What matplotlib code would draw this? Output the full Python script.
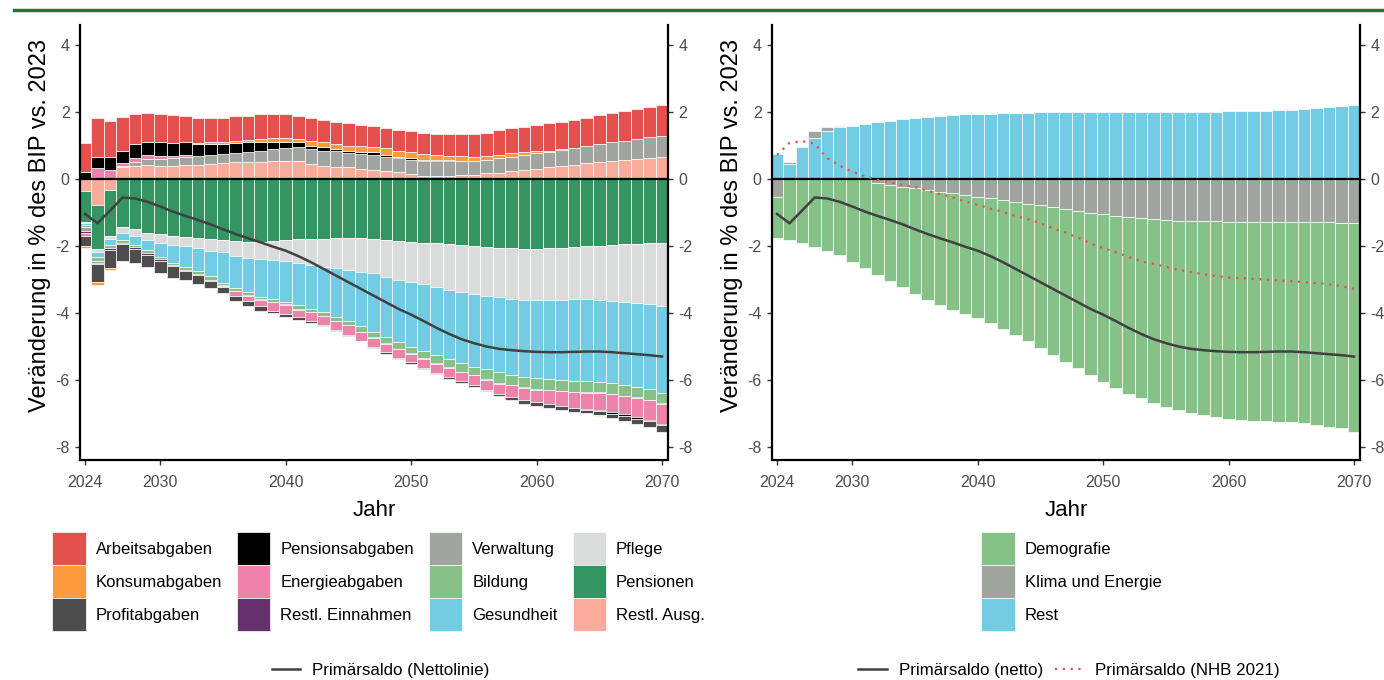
import numpy as np
import matplotlib
matplotlib.use('Agg')
import matplotlib.pyplot as plt
from matplotlib.patches import Patch
from matplotlib.lines import Line2D

plt.rcParams['font.family'] = ['Liberation Sans', 'DejaVu Sans']
plt.rcParams['axes.unicode_minus'] = False

years = np.arange(2024, 2071)

# --- left panel components (% of GDP, signed) ---
arbeitsabgaben = [0.88, 1.14, 1.07, 1.01, 0.88, 0.84, 0.83, 0.82, 0.76, 0.75, 0.71, 0.71, 0.73, 0.70, 0.73, 0.71,
                  0.71, 0.68, 0.66, 0.66, 0.64, 0.66, 0.63, 0.63, 0.60, 0.63, 0.61, 0.64, 0.63, 0.66, 0.66, 0.69,
                  0.71, 0.74, 0.74, 0.76, 0.78, 0.81, 0.82, 0.83, 0.83, 0.86, 0.88, 0.89, 0.89, 0.91, 0.91]
konsumabgaben = [-0.08, -0.10, -0.05, 0, 0, 0, 0, 0.01, 0.01, 0.03, 0.05, 0.05, 0.08, 0.08, 0.10, 0.10,
                 0.10, 0.10, 0.15, 0.15, 0.15, 0.15, 0.18, 0.15, 0.20, 0.18, 0.20, 0.18, 0.16, 0.13, 0.15, 0.12,
                 0.10, 0.10, 0.10, 0.08, 0.06, 0.04, 0.01, 0, 0, -0.02, 0, -0.02, 0, 0, 0]
profitabgaben = [-0.30, -0.53, -0.55, -0.49, -0.41, -0.35, -0.36, -0.33, -0.27, -0.25, -0.22, -0.18, -0.15, -0.15,
                 -0.15, -0.08, -0.08, -0.08, -0.05, -0.03, -0.01, -0.01, -0.01, -0.01, -0.05, -0.04, -0.04, -0.04,
                 -0.04, -0.05, -0.05, -0.05, -0.05, -0.05, -0.08, -0.10, -0.12, -0.10, -0.11, -0.13, -0.10, -0.12,
                 -0.14, -0.15, -0.16, -0.17, -0.20]
pensionsabgaben = [0.20, 0.35, 0.40, 0.37, 0.41, 0.40, 0.40, 0.40, 0.40, 0.35, 0.33, 0.30, 0.30, 0.28, 0.25, 0.22,
                   0.20, 0.15, 0.10, 0.10, 0.07, 0.07, 0.05, 0.07, 0.06, 0.05, 0.04, 0.04, 0.04, 0.04, 0.02, 0,
                   0, 0, 0, 0, 0, 0, 0, 0, -0.04, -0.05, -0.05, -0.05, -0.05, -0.04, -0.05]
energieabgaben = [-0.08, 0.32, 0.27, 0.08, 0.12, 0.12, 0.10, 0.06, 0.04, 0, 0, -0.03, -0.13, -0.15, -0.18, -0.25,
                  -0.27, -0.23, -0.26, -0.28, -0.28, -0.30, -0.27, -0.28, -0.24, -0.26, -0.25, -0.27, -0.28, -0.28,
                  -0.28, -0.30, -0.30, -0.32, -0.35, -0.38, -0.37, -0.42, -0.45, -0.47, -0.48, -0.51, -0.53, -0.55,
                  -0.58, -0.58, -0.59]
restl_einnahmen = [-0.07, -0.04, -0.05, -0.03, -0.05, -0.05, -0.05, -0.04, -0.03, -0.03, -0.04, -0.03, -0.02, -0.02,
                   -0.02, -0.02, -0.02, -0.02, -0.02, -0.01, -0.01, -0.01, -0.01, -0.01, -0.01, -0.01, -0.03, -0.01,
                   -0.01, -0.02, -0.01, -0.01, -0.01, -0.01, -0.01, -0.01, -0.01, -0.01, -0.01, -0.01, -0.01, -0.01,
                   -0.01, -0.01, -0.01, -0.01, -0.01]
verwaltung = [-0.10, -0.06, 0, 0.05, 0.12, 0.18, 0.20, 0.22, 0.24, 0.27, 0.27, 0.28, 0.27, 0.30, 0.33, 0.35,
              0.37, 0.42, 0.45, 0.45, 0.46, 0.43, 0.45, 0.46, 0.42, 0.42, 0.43, 0.43, 0.43, 0.43, 0.41, 0.42,
              0.41, 0.43, 0.44, 0.45, 0.47, 0.46, 0.48, 0.50, 0.53, 0.55, 0.57, 0.58, 0.60, 0.62, 0.63]
bildung = [-0.07, -0.12, -0.10, -0.10, -0.07, -0.10, -0.07, -0.07, -0.08, -0.10, -0.10, -0.07, -0.07, -0.10, -0.07,
           -0.07, -0.08, -0.12, -0.08, -0.10, -0.12, -0.13, -0.17, -0.17, -0.18, -0.20, -0.18, -0.22, -0.25, -0.25,
           -0.25, -0.25, -0.30, -0.33, -0.30, -0.32, -0.35, -0.33, -0.32, -0.33, -0.34, -0.32, -0.34, -0.32, -0.32,
           -0.32, -0.32]
gesundheit = [-0.07, -0.15, -0.18, -0.22, -0.28, -0.30, -0.40, -0.53, -0.63, -0.67, -0.76, -0.91, -0.97, -0.99,
              -1.11, -1.17, -1.22, -1.24, -1.31, -1.36, -1.46, -1.51, -1.62, -1.74, -1.81, -1.86, -1.95, -1.99,
              -2.02, -2.06, -2.14, -2.17, -2.19, -2.24, -2.27, -2.29, -2.32, -2.36, -2.39, -2.43, -2.44, -2.44,
              -2.44, -2.49, -2.51, -2.54, -2.59]
pflege = [-0.03, -0.07, -0.10, -0.16, -0.19, -0.22, -0.27, -0.28, -0.29, -0.32, -0.35, -0.37, -0.45, -0.50, -0.53,
          -0.57, -0.62, -0.73, -0.78, -0.83, -0.88, -0.95, -1.00, -1.02, -1.10, -1.16, -1.19, -1.24, -1.31, -1.37,
          -1.39, -1.43, -1.47, -1.48, -1.51, -1.52, -1.52, -1.54, -1.56, -1.57, -1.59, -1.62, -1.67, -1.71, -1.75,
          -1.82, -1.87]
pensionen = [-0.90, -1.32, -1.36, -1.44, -1.50, -1.60, -1.65, -1.69, -1.72, -1.75, -1.79, -1.82, -1.84, -1.87, -1.87,
             -1.85, -1.82, -1.79, -1.79, -1.79, -1.77, -1.77, -1.77, -1.80, -1.82, -1.84, -1.87, -1.90, -1.92, -1.94,
             -1.97, -2.00, -2.02, -2.05, -2.07, -2.09, -2.09, -2.07, -2.05, -2.02, -2.00, -1.99, -1.97, -1.95, -1.94,
             -1.92, -1.92]
restl_ausg = [-0.37, -0.78, -0.33, 0.35, 0.40, 0.42, 0.40, 0.40, 0.43, 0.43, 0.45, 0.47, 0.50, 0.52, 0.52, 0.55,
              0.55, 0.53, 0.45, 0.40, 0.37, 0.35, 0.30, 0.27, 0.25, 0.20, 0.15, 0.10, 0.10, 0.10, 0.12, 0.13,
              0.17, 0.19, 0.23, 0.27, 0.30, 0.35, 0.40, 0.43, 0.47, 0.50, 0.53, 0.57, 0.60, 0.63, 0.67]

# --- right panel components ---
demografie = [-1.22, -1.82, -1.92, -2.02, -2.14, -2.28, -2.47, -2.67, -2.75, -2.86, -3.00, -3.16, -3.28, -3.38,
              -3.48, -3.55, -3.63, -3.73, -3.85, -3.98, -4.11, -4.26, -4.42, -4.55, -4.70, -4.85, -5.03, -5.16,
              -5.29, -5.38, -5.51, -5.58, -5.67, -5.74, -5.80, -5.85, -5.89, -5.92, -5.95, -5.94, -5.96, -5.97,
              -6.00, -6.05, -6.10, -6.14, -6.24]
klima_energie = [-0.55, 0.05, 0, 0.20, 0.11, 0.05, 0, 0, -0.12, -0.18, -0.23, -0.28, -0.33, -0.38, -0.43, -0.48,
                 -0.53, -0.58, -0.63, -0.68, -0.73, -0.78, -0.83, -0.90, -0.95, -1.00, -1.04, -1.09, -1.13, -1.17,
                 -1.19, -1.22, -1.24, -1.25, -1.26, -1.26, -1.27, -1.27, -1.27, -1.28, -1.28, -1.28, -1.29, -1.29,
                 -1.29, -1.30, -1.30]
rest = [0.74, 0.45, 0.95, 1.24, 1.43, 1.54, 1.58, 1.64, 1.69, 1.74, 1.78, 1.83, 1.86, 1.89, 1.92, 1.93, 1.94,
        1.95, 1.96, 1.97, 1.98, 1.99, 1.99, 2.00, 2.01, 2.01, 2.01, 2.01, 2.01, 2.01, 2.00, 2.00, 2.00, 2.00,
        2.01, 2.01, 2.02, 2.02, 2.03, 2.04, 2.05, 2.07, 2.09, 2.11, 2.14, 2.17, 2.21]

# --- lines ---
primaersaldo = [-1.04, -1.32, -0.94, -0.55, -0.58, -0.68, -0.82, -0.97, -1.10, -1.22, -1.35, -1.50, -1.64, -1.77,
                -1.89, -2.02, -2.14, -2.30, -2.48, -2.68, -2.88, -3.08, -3.28, -3.48, -3.68, -3.88, -4.05, -4.24,
                -4.44, -4.62, -4.78, -4.90, -5.00, -5.07, -5.11, -5.14, -5.16, -5.17, -5.17, -5.16, -5.15, -5.15,
                -5.17, -5.20, -5.23, -5.26, -5.30]
nhb_2021 = [0.72, 1.08, 1.13, 1.06, 0.62, 0.40, 0.22, 0.08, -0.02, -0.10, -0.17, -0.24, -0.35, -0.45, -0.55, -0.67,
            -0.77, -0.88, -0.98, -1.10, -1.20, -1.32, -1.47, -1.60, -1.75, -1.92, -2.06, -2.18, -2.32, -2.45, -2.53,
            -2.62, -2.71, -2.78, -2.84, -2.90, -2.94, -2.96, -2.98, -3.00, -3.03, -3.05, -3.08, -3.11, -3.14, -3.20,
            -3.28]

# legend order (first entry is stacked farthest from zero)
left_series = [
    ('Arbeitsabgaben', arbeitsabgaben, '#E4504E'),
    ('Konsumabgaben', konsumabgaben, '#FD9A3E'),
    ('Profitabgaben', profitabgaben, '#4D4D4D'),
    ('Pensionsabgaben', pensionsabgaben, '#000000'),
    ('Energieabgaben', energieabgaben, '#EE82A8'),
    ('Restl. Einnahmen', restl_einnahmen, '#66306E'),
    ('Verwaltung', verwaltung, '#A0A69F'),
    ('Bildung', bildung, '#86C287'),
    ('Gesundheit', gesundheit, '#72CDE4'),
    ('Pflege', pflege, '#D9DCDA'),
    ('Pensionen', pensionen, '#359562'),
    ('Restl. Ausg.', restl_ausg, '#F9AB9C'),
]
right_series = [
    ('Demografie', demografie, '#86C287'),
    ('Klima und Energie', klima_energie, '#A0A69F'),
    ('Rest', rest, '#72CDE4'),
]

DOTTED = (0, (1, 2.5))


def stacked(ax, series):
    pos = np.zeros(len(years))
    neg = np.zeros(len(years))
    for name, vals, col in reversed(series):
        v = np.asarray(vals, dtype=float)
        p = np.where(v > 0, v, 0.0)
        n = np.where(v < 0, v, 0.0)
        m = p > 0
        ax.bar(years[m], p[m], bottom=pos[m], width=1.0, color=col, edgecolor='white', linewidth=0.5)
        m = n < 0
        ax.bar(years[m], n[m], bottom=neg[m], width=1.0, color=col, edgecolor='white', linewidth=0.5)
        pos += p
        neg += n


def style(ax):
    ax.set_xlim(2023.6, 2070.48)
    ax.set_ylim(-8.39, 4.6)
    ax.set_yticks([-8, -6, -4, -2, 0, 2, 4])
    ax.set_xticks([2024, 2030, 2040, 2050, 2060, 2070])
    ax.axhline(0, color='black', lw=1.6, zorder=4)
    for s in ['left', 'right', 'bottom']:
        ax.spines[s].set_linewidth(1.6)
    ax.spines['top'].set_visible(False)
    ax.tick_params(axis='both', labelsize=11.5, color='#333333', labelcolor='#4D4D4D',
                   length=3.5, width=1, right=True, labelright=True)
    ax.tick_params(axis='x', pad=7.5)
    ax.tick_params(axis='y', pad=4)
    ax.set_xlabel('Jahr', fontsize=16, labelpad=7)
    ax.set_ylabel('Veränderung in % des BIP vs. 2023', fontsize=17, labelpad=3)
    ax.yaxis.label.set_y(0.538)


fig = plt.figure(figsize=(13.84, 6.8), dpi=100)
ax1 = fig.add_axes([0.0578, 0.3235, 0.4249, 0.6397])
ax2 = fig.add_axes([0.5578, 0.3235, 0.4249, 0.6397])

stacked(ax1, left_series)
ax1.plot(years, primaersaldo, color='#404040', lw=1.8, zorder=5)
style(ax1)

stacked(ax2, right_series)
ax2.plot(years, primaersaldo, color='#404040', lw=1.8, zorder=5)
ax2.plot(years, nhb_2021, color='#E4504E', lw=1.6, ls=DOTTED, zorder=5)
style(ax2)

# fill legends
leg_kw = dict(loc='upper center', frameon=False, fontsize=12.0, handlelength=2.0, handleheight=2.67,
              labelspacing=0.0, handletextpad=0.6, borderpad=0, bbox_transform=fig.transFigure)
h1 = [Patch(facecolor=c, edgecolor='white', linewidth=0.5) for _, _, c in left_series]
fig.legend(h1, [n for n, _, _ in left_series], bbox_to_anchor=(0.2735, 0.2294), ncol=4,
           columnspacing=0.9, **leg_kw)
h2 = [Patch(facecolor=c, edgecolor='white', linewidth=0.5) for _, _, c in right_series]
fig.legend(h2, [n for n, _, _ in right_series], bbox_to_anchor=(0.7740, 0.2294), ncol=1, **leg_kw)

# line legends
fig.legend([Line2D([], [], color='#404040', lw=1.8)], ['Primärsaldo (Nettolinie)'], loc='center',
           bbox_to_anchor=(0.275, 0.0147), frameon=False, fontsize=12.2, handlelength=1.7, handletextpad=0.7,
           borderpad=0)
fig.legend([Line2D([], [], color='#404040', lw=1.8), Line2D([], [], color='#E4504E', lw=1.6, ls=DOTTED)],
           ['Primärsaldo (netto)', 'Primärsaldo (NHB 2021)'], loc='center', ncol=2,
           bbox_to_anchor=(0.7724, 0.0147), frameon=False, fontsize=12.2, handlelength=1.7, handletextpad=0.7,
           columnspacing=0.7, borderpad=0)

# green rule at top
fig.add_artist(Line2D([0.01, 1.0], [0.985, 0.985], transform=fig.transFigure, color='#1B7A3A', lw=2.5))

fig.savefig('out.png', dpi=100)
